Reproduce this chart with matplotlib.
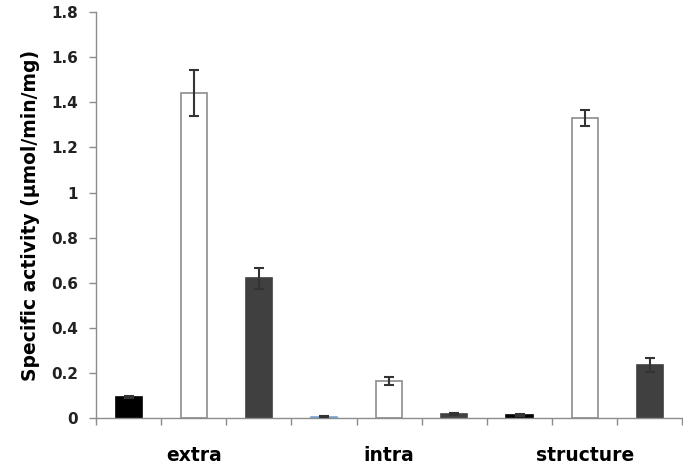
import matplotlib.pyplot as plt

# nine bars, one per category slot; only the middle slot of each group is labelled
values = [0.093, 1.44, 0.62, 0.005, 0.165, 0.018, 0.012, 1.33, 0.235]
errors = [0.005, 0.102, 0.047, 0.002, 0.017, 0.003, 0.004, 0.035, 0.032]
colors = ["#000000", "#ffffff", "#404040", "#7aa3d4", "#ffffff", "#404040", "#000000", "#ffffff", "#404040"]
edges = ["#000000", "#8c8c8c", "#404040", "#7aa3d4", "#8c8c8c", "#404040", "#000000", "#8c8c8c", "#404040"]
group_labels = ["extra", "intra", "structure"]
group_pos = [1, 4, 7]
yticks = [0, 0.2, 0.4, 0.6, 0.8, 1, 1.2, 1.4, 1.6, 1.8]
ytick_labels = ["0", "0.2", "0.4", "0.6", "0.8", "1", "1.2", "1.4", "1.6", "1.8"]

fig = plt.figure(figsize=(6.83, 4.65), dpi=100)
ax = fig.add_axes([0.1406, 0.101, 0.8585, 0.873])

x = list(range(len(values)))
ax.bar(x, values, width=0.4, color=colors, edgecolor=edges, linewidth=1.2, zorder=2)
ax.errorbar(x, values, yerr=errors, fmt="none", ecolor="#333333", elinewidth=1.5,
            capsize=3.5, capthick=1.5, zorder=3)

ax.set_xlim(-0.5, len(values) - 0.5)
ax.set_ylim(0, 1.8)

# category boundary ticks below the axis
ax.set_xticks([i - 0.5 for i in range(len(values) + 1)])
ax.set_xticklabels([])
ax.tick_params(axis="x", direction="out", length=5, color="#8c8c8c", width=1)
ax.set_xticks(group_pos, minor=True)
ax.set_xticklabels(group_labels, minor=True, fontsize=13.5, fontweight="bold")
ax.tick_params(axis="x", which="minor", length=0, pad=20)

ax.set_yticks(yticks)
ax.set_yticklabels(ytick_labels, fontsize=11, fontweight="bold", color="#222222")
ax.tick_params(axis="y", direction="out", length=5, color="#8c8c8c", width=1, pad=8)

for side in ["top", "right"]:
    ax.spines[side].set_visible(False)
for side in ["left", "bottom"]:
    ax.spines[side].set_color("#8c8c8c")
    ax.spines[side].set_linewidth(1)

ax.set_ylabel("Specific activity (\u03bcmol/min/mg)", fontsize=13.5, fontweight="bold", labelpad=8)

fig.savefig("out.png", dpi=100)
